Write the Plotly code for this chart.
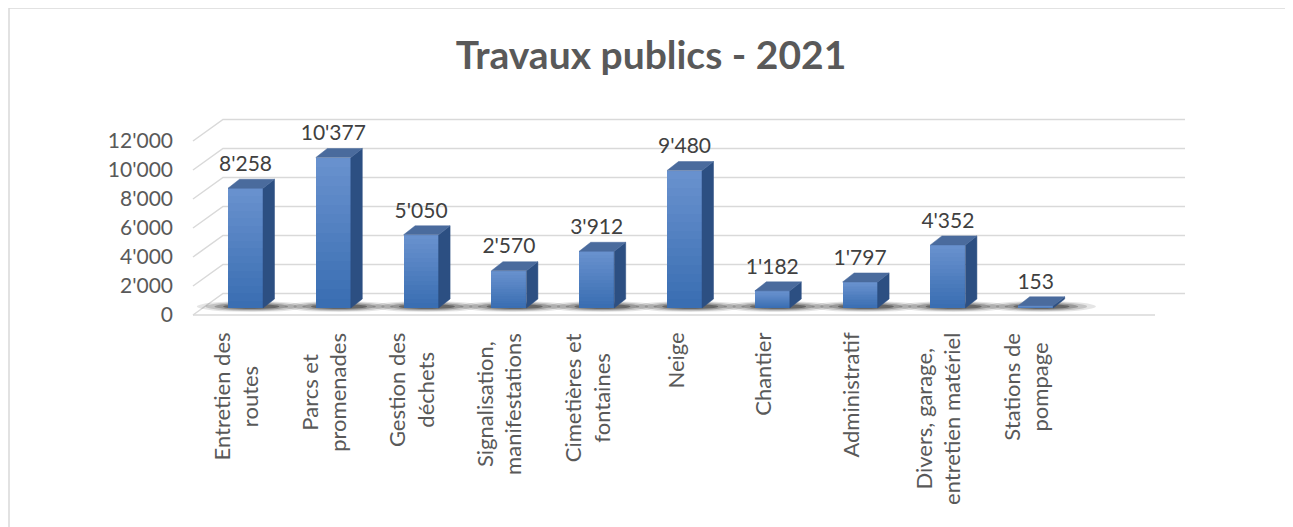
import plotly.graph_objects as go

# ---------------- data ----------------
categories = [
    "Entretien des<br>routes",
    "Parcs et<br>promenades",
    "Gestion des<br>déchets",
    "Signalisation,<br>manifestations",
    "Cimetières et<br>fontaines",
    "Neige",
    "Chantier",
    "Administratif",
    "Divers, garage,<br>entretien matériel",
    "Stations de<br>pompage",
]
values = [8258, 10377, 5050, 2570, 3912, 9480, 1182, 1797, 4352, 153]
tick_values = [0, 2000, 4000, 6000, 8000, 10000, 12000]
title_text = "Travaux publics - 2021"

# ---------------- geometry (page pixels; page body has an 8px margin) ----------------
OFF = 8
W_FIG, H_FIG = 1293, 527
L, R, T, B = 174 - OFF, 1193 - OFF, 100 - OFF, 330 - OFF   # plot area, figure pixels
X0_PX, X_STEP = 235.5 - OFF, 87.8
Y0_PX, Y_SCALE = 315.0 - OFF, 174.0 / 12000

def xd(px):  # figure pixel -> x data
    return (px - X0_PX) / X_STEP

def ydd(dpx):  # pixel distance (upwards) -> y data distance
    return dpx / Y_SCALE

x_range = [xd(L), xd(R)]
y_range = [-ydd(B - Y0_PX), ydd(Y0_PX - T)]

back_dx, back_dy = 30 / X_STEP, ydd(21.5)
bar_dx, bar_base = 10 / X_STEP, ydd(7)
hw = 17.5 / X_STEP
depth_dx, depth_dy = 11.5 / X_STEP, ydd(9)
floor_left, floor_right = xd(193 - OFF), xd(1155 - OFF)

FONT = "Lato, Carlito, Calibri, sans-serif"
GRID = "#d9d9d9"
SIDE = "#2c4f82"
TOP = "#4a6b9d"
TOP_RGB = (104, 145, 206)   # front face gradient, top colour
BOT_RGB = (58, 110, 178)    # front face gradient, bottom colour
N_SLICES = 16

fig = go.Figure()

side_x, side_y, top_x, top_y = [], [], [], []
for i, v in enumerate(values):
    xl = i + bar_dx - hw
    xr = i + bar_dx + hw
    b0, b1 = bar_base, bar_base + v
    side_x += [xr, xr + depth_dx, xr + depth_dx, xr, xr, None]
    side_y += [b0, b0 + depth_dy, b1 + depth_dy, b1, b0, None]
    top_x += [xl, xr, xr + depth_dx, xl + depth_dx, xl, None]
    top_y += [b1, b1, b1 + depth_dy, b1 + depth_dy, b1, None]

fig.add_trace(go.Scatter(x=side_x, y=side_y, fill="toself", fillcolor=SIDE,
                         mode="lines", line=dict(width=0.5, color=SIDE),
                         hoverinfo="skip", showlegend=False))
fig.add_trace(go.Scatter(x=top_x, y=top_y, fill="toself", fillcolor=TOP,
                         mode="lines", line=dict(width=0.5, color=TOP),
                         hoverinfo="skip", showlegend=False))

# front faces, drawn as vertical gradient slices of each bar's value
bar_x = [i + bar_dx for i in range(len(values))]
for k in range(N_SLICES):
    f = k / (N_SLICES - 1)
    col = "rgb({},{},{})".format(*[round(BOT_RGB[j] + (TOP_RGB[j] - BOT_RGB[j]) * f) for j in range(3)])
    fig.add_trace(go.Bar(
        x=bar_x, y=[v / N_SLICES for v in values],
        base=[bar_base + v * k / N_SLICES for v in values],
        width=2 * hw, marker=dict(color=col, line=dict(width=0)),
        showlegend=False, hoverinfo="skip"))

# data labels
fig.add_trace(go.Scatter(
    x=bar_x, y=[bar_base + v + depth_dy + ydd(3) for v in values],
    mode="text", text=[f"{v:,}".replace(",", "'") for v in values],
    textposition="top center",
    textfont=dict(family=FONT, size=21, color="#404040"),
    hoverinfo="skip", showlegend=False))

shapes = []
for t in tick_values:
    shapes.append(dict(type="path", layer="below",
                       path=f"M {floor_left},{t} L {floor_left + back_dx},{t + back_dy} L {floor_right + back_dx},{t + back_dy}",
                       xref="x", yref="y", line=dict(color=GRID, width=1.5)))
shapes.append(dict(type="line", layer="below", xref="x", yref="y",
                   x0=floor_left, x1=floor_right, y0=0, y1=0,
                   line=dict(color=GRID, width=1.5)))
# soft shadows under bars
for i, v in enumerate(values):
    cx = i + bar_dx + depth_dx / 2
    for ext, hh, op in [(0.62, 5.5, 0.10), (0.52, 4.5, 0.15), (0.42, 3.5, 0.22), (0.32, 2.5, 0.32)]:
        shapes.append(dict(type="circle", layer="below", xref="x", yref="y",
                           x0=cx - ext, x1=cx + ext,
                           y0=bar_base + ydd(1.5) - ydd(hh), y1=bar_base + ydd(1.5) + ydd(hh),
                           fillcolor=f"rgba(0,0,0,{op})", line=dict(width=0)))
# chart border
W = R - L
H = B - T
shapes.append(dict(type="rect", xref="paper", yref="paper",
                   x0=(1 - L) / W, x1=(1278 - L) / W,
                   y0=(B - 540) / H, y1=(B - 0) / H,
                   line=dict(color="#d9d9d9", width=1.5), fillcolor="rgba(0,0,0,0)",
                   layer="below"))

annotations = []
for i, c in enumerate(categories):
    annotations.append(dict(
        x=i, xref="x", y=(B - (331 - OFF)) / H, yref="paper",
        text=c, textangle=-90, showarrow=False,
        xanchor="center", yanchor="top", align="center",
        font=dict(family=FONT, size=22, color="#595959")))

fig.update_layout(
    width=W_FIG, height=H_FIG,
    margin=dict(l=L, r=W_FIG - R, t=T, b=H_FIG - B),
    paper_bgcolor="white", plot_bgcolor="rgba(0,0,0,0)",
    separators=".'",
    title=dict(text=f"<b>{title_text}</b>", x=(651 - OFF) / W_FIG, xref="container", xanchor="center",
               y=1 - (55 - OFF) / H_FIG, yanchor="middle",
               font=dict(family=FONT, size=39, color="#595959")),
    xaxis=dict(range=x_range, showgrid=False, zeroline=False, showticklabels=False,
               showline=False, ticks=""),
    yaxis=dict(range=y_range, showgrid=False, zeroline=False, showline=False,
               tickvals=tick_values, ticktext=[f"{t:,}".replace(",", "'") for t in tick_values],
               ticks="", tickfont=dict(family=FONT, size=21, color="#595959")),
    shapes=shapes, annotations=annotations,
    barmode="overlay", bargap=0,
)

fig.write_html("out.html")
